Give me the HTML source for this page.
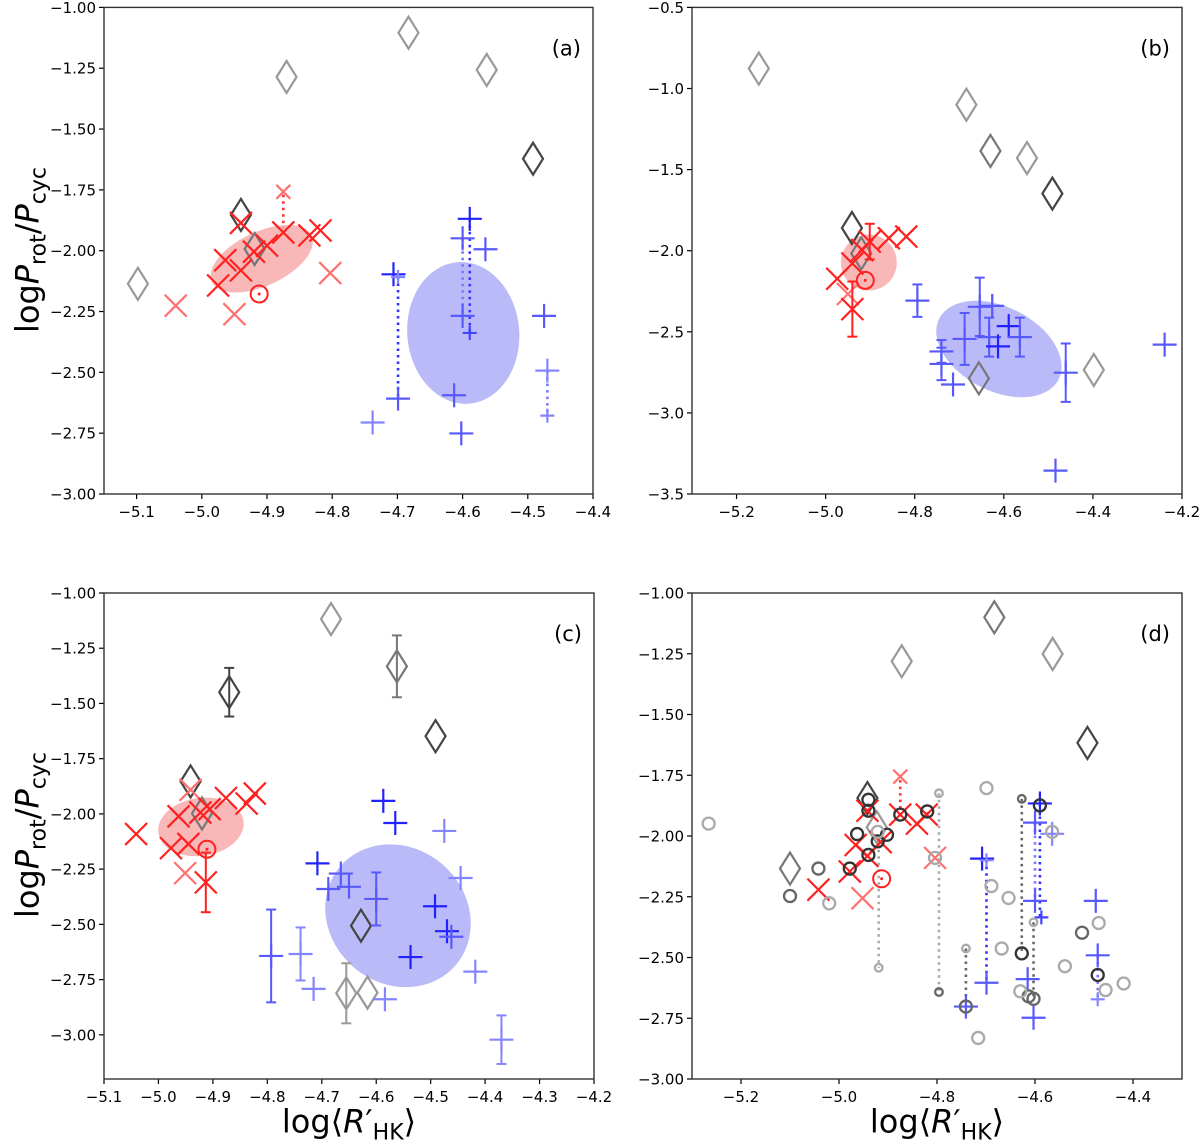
<!DOCTYPE html>
<html><head><meta charset="utf-8">
<style>
html,body{margin:0;padding:0;background:#fff;}
svg{display:block;font-family:"DejaVu Sans","Liberation Sans",sans-serif;}
</style></head>
<body>
<svg id="fig" width="1200" height="1146" viewBox="0 0 1200 1146" xmlns="http://www.w3.org/2000/svg"></svg>
<script>
// ---------- data ----------
const aXTicks=[-5.1,-5.0,-4.9,-4.8,-4.7,-4.6,-4.5,-4.4];
const aYTicks=[-1.00,-1.25,-1.50,-1.75,-2.00,-2.25,-2.50,-2.75,-3.00];
const bXTicks=[-5.2,-5.0,-4.8,-4.6,-4.4,-4.2];
const bYTicks=[-0.5,-1.0,-1.5,-2.0,-2.5,-3.0,-3.5];
const cXTicks=[-5.1,-5.0,-4.9,-4.8,-4.7,-4.6,-4.5,-4.4,-4.3,-4.2];
const cYTicks=[-1.00,-1.25,-1.50,-1.75,-2.00,-2.25,-2.50,-2.75,-3.00];
const dXTicks=[-5.2,-5.0,-4.8,-4.6,-4.4];
const dYTicks=[-1.00,-1.25,-1.50,-1.75,-2.00,-2.25,-2.50,-2.75,-3.00];

// panel a
const aDiamonds=[[-4.870,-1.286,'l'],[-4.683,-1.104,'l'],[-4.563,-1.257,'l'],[-5.098,-2.136,'l'],[-4.492,-1.622,'d'],[-4.940,-1.853,'d'],[-4.919,-1.993,'m']];
const aCrosses=[[-4.875,-1.925,'r'],[-4.835,-1.937,'r'],[-4.818,-1.917,'r'],[-4.900,-1.979,'r'],[-4.920,-2.004,'r'],[-4.964,-2.039,'r'],[-4.940,-2.081,'r'],[-4.975,-2.143,'r'],[-4.940,-1.886,'r'],[-4.803,-2.092,'p'],[-5.040,-2.226,'p'],[-4.950,-2.261,'p'],[-4.875,-1.758,'s']];
const aPluses=[[-4.589,-1.869,'d'],[-4.706,-2.097,'d'],[-4.600,-1.949,'m'],[-4.565,-1.994,'m'],[-4.600,-2.268,'m'],[-4.589,-2.338,'ms'],[-4.699,-2.608,'m'],[-4.613,-2.594,'m'],[-4.602,-2.751,'m'],[-4.475,-2.268,'m'],[-4.470,-2.493,'l'],[-4.470,-2.678,'ls'],[-4.738,-2.706,'l'],[-4.699,-2.108,'ls']];
const aLinks=[[-4.699,-2.108,-2.608,'b'],[-4.600,-1.949,-2.268,'bl'],[-4.589,-1.869,-2.338,'b'],[-4.470,-2.493,-2.678,'bl'],[-4.875,-1.770,-1.905,'r']];
const aSun=[-4.912,-2.178];
const aEllipses=[[-4.908,-2.033,55,27,-25,'r'],[-4.599,-2.338,56,71,-5,'b']];

// panel b
const bDiamonds=[[-5.150,-0.877,'l'],[-4.684,-1.100,'l'],[-4.630,-1.385,'m'],[-4.548,-1.429,'l'],[-4.491,-1.648,'d'],[-4.941,-1.860,'d'],[-4.920,-2.017,'m'],[-4.656,-2.787,'m'],[-4.398,-2.735,'l']];
const bCrosses=[[-4.901,-1.944,'r',0.11],[-4.858,-1.923,'r',0],[-4.819,-1.913,'r',0],[-4.918,-1.996,'r',0],[-4.940,-2.079,'r',0],[-4.974,-2.173,'r',0],[-4.950,-2.267,'p',0],[-4.940,-2.360,'r',0.17]];
const bPluses=[[-4.794,-2.308,'m',0.10],[-4.654,-2.346,'m',0.18],[-4.626,-2.340,'m',0],[-4.688,-2.544,'m',0.16],[-4.633,-2.533,'m',0.12],[-4.613,-2.590,'d',0],[-4.589,-2.465,'d',0],[-4.564,-2.533,'m',0.12],[-4.740,-2.621,'m',0.07],[-4.740,-2.698,'m',0.10],[-4.714,-2.825,'m',0],[-4.461,-2.752,'m',0.18],[-4.239,-2.579,'m',0],[-4.484,-3.356,'m',0]];
const bSun=[-4.911,-2.183];
const bEllipses=[[-4.903,-2.073,28,28,0,'r'],[-4.611,-2.606,67,42,27,'b']];

// panel c
const cDiamonds=[[-4.683,-1.118,'l',0],[-4.562,-1.332,'m',0.14],[-4.870,-1.449,'d',0.11],[-4.491,-1.648,'d',0],[-4.941,-1.853,'d',0],[-4.920,-1.998,'m',0],[-4.628,-2.506,'d',0],[-4.655,-2.812,'l',0.136],[-4.616,-2.809,'l',0]];
const cCrosses=[[-5.041,-2.091,'r',0],[-4.963,-2.011,'r',0],[-4.941,-1.891,'p',0],[-4.906,-1.978,'r',0],[-4.876,-1.928,'r',0],[-4.838,-1.953,'r',0],[-4.823,-1.908,'r',0],[-4.923,-1.994,'r',0],[-4.977,-2.155,'r',0],[-4.945,-2.136,'r',0],[-4.951,-2.268,'p',0],[-4.913,-2.310,'r',0.135]];
const cPluses=[[-4.587,-1.941,'d',0],[-4.565,-2.041,'d',0],[-4.475,-2.077,'l',0],[-4.708,-2.224,'d',0],[-4.665,-2.270,'m',0],[-4.688,-2.340,'m',0],[-4.650,-2.330,'m',0],[-4.600,-2.385,'m',0.12],[-4.445,-2.290,'l',0],[-4.492,-2.418,'d',0],[-4.470,-2.531,'d',0],[-4.462,-2.556,'m',0],[-4.537,-2.648,'d',0],[-4.418,-2.714,'l',0],[-4.793,-2.643,'m',0.21],[-4.739,-2.634,'l',0.12],[-4.715,-2.792,'l',0],[-4.584,-2.839,'l',0],[-4.370,-3.022,'l',0.11]];
const cSun=[-4.911,-2.160];
const cEllipses=[[-4.922,-2.059,43,29,-8,'r'],[-4.560,-2.461,76,68,40,'b']];

// panel d
const dDiamonds=[[-4.872,-1.281,'l'],[-4.683,-1.100,'m'],[-4.564,-1.251,'l'],[-4.493,-1.617,'d'],[-5.100,-2.134,'m'],[-4.942,-1.844,'d'],[-4.923,-1.964,'l']];
const dCrosses=[[-4.875,-1.912,'r'],[-4.841,-1.949,'r'],[-4.821,-1.912,'r'],[-4.915,-2.025,'r'],[-4.966,-2.037,'r'],[-4.942,-2.082,'r'],[-4.978,-2.146,'r'],[-4.942,-1.896,'r'],[-4.804,-2.090,'p'],[-5.042,-2.221,'r'],[-4.952,-2.256,'p'],[-4.875,-1.756,'s']];
const dPluses=[[-4.590,-1.866,'d'],[-4.708,-2.093,'d'],[-4.600,-1.945,'m'],[-4.565,-1.991,'l'],[-4.600,-2.267,'m'],[-4.587,-2.335,'ms'],[-4.699,-2.604,'m'],[-4.615,-2.589,'m'],[-4.603,-2.748,'m'],[-4.476,-2.267,'m'],[-4.472,-2.491,'m'],[-4.472,-2.672,'ls'],[-4.741,-2.702,'m'],[-4.699,-2.100,'ls']];
const dCircles=[[-4.940,-1.851,'k'],[-4.940,-1.896,'k'],[-4.963,-1.992,'k'],[-4.921,-2.022,'k'],[-4.902,-1.995,'k'],[-4.940,-2.078,'k'],[-4.978,-2.134,'k'],[-4.875,-1.912,'k'],[-4.820,-1.899,'k'],[-4.590,-1.874,'k'],[-4.627,-2.483,'k'],[-4.472,-2.572,'k'],
 [-5.042,-2.134,'g'],[-5.100,-2.247,'g'],[-4.504,-2.398,'g'],[-4.613,-2.660,'g'],[-4.603,-2.670,'g'],[-4.741,-2.702,'g'],
 [-5.266,-1.949,'l'],[-5.020,-2.277,'l'],[-4.921,-1.983,'l'],[-4.804,-2.090,'l'],[-4.699,-1.803,'l'],[-4.689,-2.206,'l'],[-4.654,-2.255,'l'],[-4.668,-2.463,'l'],[-4.565,-1.983,'l'],[-4.470,-2.358,'l'],[-4.539,-2.536,'l'],[-4.630,-2.639,'l'],[-4.456,-2.634,'l'],[-4.419,-2.607,'l'],[-4.716,-2.831,'l'],
 [-4.796,-1.824,'ls'],[-4.796,-2.642,'gs'],[-4.627,-1.847,'gs'],[-4.741,-2.463,'ls'],[-4.919,-2.542,'ls'],[-4.603,-2.355,'ls']];
const dLinks=[[-4.699,-2.100,-2.604,'b'],[-4.600,-1.945,-2.267,'bl'],[-4.590,-1.866,-2.335,'b'],[-4.472,-2.491,-2.672,'bl'],[-4.875,-1.770,-1.900,'r'],
 [-4.796,-1.824,-2.642,'gl'],[-4.627,-1.847,-2.483,'g'],[-4.741,-2.463,-2.702,'g'],[-4.919,-2.030,-2.542,'gl'],[-4.603,-2.355,-2.670,'g']];
const dSun=[-4.913,-2.176];

// ---------- rendering ----------
const NS='http://www.w3.org/2000/svg';
const fig=document.getElementById('fig');
function mk(tag,attrs,parent){const e=document.createElementNS(NS,tag);for(const k in attrs)e.setAttribute(k,attrs[k]);(parent||fig).appendChild(e);return e;}
const minus=s=>s.replace('-','\u2212');

const diaCol={l:'#999999',m:'#777777',d:'#444444'};
const crossCol={r:'#ff2020',p:'#ff7070',s:'#ff7070'};
const plusCol={d:'#2222ff',m:'#5858ff',l:'#8585ff',ms:'#4444ff',ls:'#8585ff'};
const circCol={k:'#333333',g:'#666666',l:'#aaaaaa',ls:'#aaaaaa',gs:'#666666'};
const linkCol={b:'#3333ff',bl:'#7777ff',r:'#ff3030',g:'#666666',gl:'#aaaaaa'};
const ellCol={r:'#f8b8b8',b:'#babaf8'};

function panel(name,px0,px1,xl,py0,py1,yl,xticks,yticks,xdec,ydec,label){
  const g=mk('g',{});
  
  
  const X=v=>px0+(v-xl[0])/(xl[1]-xl[0])*(px1-px0);
  const Y=v=>py0+(v-yl[0])/(yl[1]-yl[0])*(py1-py0);
  const plot=mk('g',{},g);
  
  
  const ax=mk('g',{'font-size':'15','fill':'#000'},g);
  
  
  xticks.forEach(t=>{const x=X(t);
    mk('line',{x1:x,y1:py1,x2:x,y2:py1+5,stroke:'#000','stroke-width':1.2},ax);
    const tx=mk('text',{x:x,y:py1+23,'text-anchor':'middle'},ax);tx.textContent=minus(t.toFixed(xdec));
    
    });
  yticks.forEach(t=>{const y=Y(t);
    mk('line',{x1:px0-5,y1:y,x2:px0,y2:y,stroke:'#000','stroke-width':1.2},ax);
    const tx=mk('text',{x:px0-8,y:y+5.5,'text-anchor':'end'},ax);tx.textContent=minus(t.toFixed(ydec));
    
    });
  const fr=mk('rect',{x:px0,y:py0,width:px1-px0,height:py1-py0,fill:'none',stroke:'#333','stroke-width':1.4},ax);
  
  
  const lt=mk('text',{x:px1-12,y:py0+48,'text-anchor':'end','font-size':'21'},ax);lt.textContent=label;
  
  
  return {X,Y,plot};
}
function ellipses(P,arr){arr.forEach(e=>{const cx=P.X(e[0]),cy=P.Y(e[1]);
  const el=mk('ellipse',{cx:cx,cy:cy,rx:e[2],ry:e[3],transform:`rotate(${e[4]} ${cx} ${cy})`,fill:ellCol[e[5]]},P.plot);
  
  });}
function links(P,arr){arr.forEach(l=>{const x=P.X(l[0]);
  const ln=mk('line',{x1:x,y1:P.Y(l[1]),x2:x,y2:P.Y(l[2]),stroke:linkCol[l[3]],'stroke-width':2.6,'stroke-dasharray':'2.5 4'},P.plot);
  
  });}
function errbar(P,x,y,e,col){if(!e)return;const px=P.X(x);
  mk('line',{x1:px,y1:P.Y(y-e),x2:px,y2:P.Y(y+e),stroke:col,'stroke-width':2},P.plot);
  mk('line',{x1:px-5,y1:P.Y(y-e),x2:px+5,y2:P.Y(y-e),stroke:col,'stroke-width':2},P.plot);
  mk('line',{x1:px-5,y1:P.Y(y+e),x2:px+5,y2:P.Y(y+e),stroke:col,'stroke-width':2},P.plot);}
function diamonds(P,arr){arr.forEach(d=>{const x=P.X(d[0]),y=P.Y(d[1]),c=diaCol[d[2]];
  errbar(P,d[0],d[1],d[3],c);
  const p=mk('path',{d:`M${x} ${y-16}L${x+10} ${y}L${x} ${y+16}L${x-10} ${y}Z`,fill:'none',stroke:c,'stroke-width':2.2},P.plot);
  
  });}
function crosses(P,arr){arr.forEach(d=>{const x=P.X(d[0]),y=P.Y(d[1]),c=crossCol[d[2]],s=d[2]==='s'?7:11;
  errbar(P,d[0],d[1],d[3],c);
  const p=mk('path',{d:`M${x-s} ${y-s}L${x+s} ${y+s}M${x-s} ${y+s}L${x+s} ${y-s}`,stroke:c,'stroke-width':2.2,fill:'none'},P.plot);
  
  });}
function pluses(P,arr){arr.forEach(d=>{const x=P.X(d[0]),y=P.Y(d[1]),c=plusCol[d[2]],s=d[2].length>1?7:12;
  errbar(P,d[0],d[1],d[3],c);
  const p=mk('path',{d:`M${x-s} ${y}L${x+s} ${y}M${x} ${y-s}L${x} ${y+s}`,stroke:c,'stroke-width':2.2,fill:'none'},P.plot);
  
  });}
function circles(P,arr){arr.forEach(d=>{const r=d[2].length>1?3.8:6;
  const p=mk('circle',{cx:P.X(d[0]),cy:P.Y(d[1]),r:r,fill:'none',stroke:circCol[d[2]],'stroke-width':2.3},P.plot);
  
  });}
function sun(P,s){const x=P.X(s[0]),y=P.Y(s[1]);
  const c=mk('circle',{cx:x,cy:y,r:8.5,fill:'none',stroke:'#ff2020','stroke-width':2},P.plot);
  
  
  mk('circle',{cx:x,cy:y,r:1.5,fill:'#ff2020'},P.plot);}

const PA=panel('panel-a',104,593,[-5.15,-4.4],7.4,494,[-1,-3],aXTicks,aYTicks,1,2,'(a)');
ellipses(PA,aEllipses);links(PA,aLinks);diamonds(PA,aDiamonds);crosses(PA,aCrosses);pluses(PA,aPluses);sun(PA,aSun);

const PB=panel('panel-b',692,1182,[-5.3,-4.2],7.4,494,[-0.5,-3.5],bXTicks,bYTicks,1,1,'(b)');
ellipses(PB,bEllipses);diamonds(PB,bDiamonds);crosses(PB,bCrosses);pluses(PB,bPluses);sun(PB,bSun);

const PC=panel('panel-c',104,594,[-5.1,-4.2],593,1079,[-1,-3.2],cXTicks,cYTicks,1,2,'(c)');
ellipses(PC,cEllipses);diamonds(PC,cDiamonds);crosses(PC,cCrosses);pluses(PC,cPluses);sun(PC,cSun);

const PD=panel('panel-d',692,1182,[-5.3,-4.3],593,1079,[-1,-3],dXTicks,dYTicks,1,2,'(d)');
links(PD,dLinks);diamonds(PD,dDiamonds);crosses(PD,dCrosses);pluses(PD,dPluses);circles(PD,dCircles);sun(PD,dSun);
</script>
<div style="position:absolute;left:0;top:0;width:1200px;height:1146px;pointer-events:none;font-family:'DejaVu Sans','Liberation Sans',sans-serif;">
  <div style="position:absolute;left:30px;top:250px;transform:translate(-50%,-50%) rotate(-90deg);font-size:32px;white-space:nowrap;">log<i>P</i><sub style="font-size:22px">rot</sub>/<i>P</i><sub style="font-size:22px">cyc</sub></div>
  <div style="position:absolute;left:30px;top:835px;transform:translate(-50%,-50%) rotate(-90deg);font-size:32px;white-space:nowrap;">log<i>P</i><sub style="font-size:22px">rot</sub>/<i>P</i><sub style="font-size:22px">cyc</sub></div>
  <div style="position:absolute;left:349px;top:1124px;transform:translate(-50%,-50%);font-size:32px;white-space:nowrap;">log⟨<i>R</i>′<sub style="font-size:22px">HK</sub>⟩</div>
  <div style="position:absolute;left:937px;top:1124px;transform:translate(-50%,-50%);font-size:32px;white-space:nowrap;">log⟨<i>R</i>′<sub style="font-size:22px">HK</sub>⟩</div>
</div>
</body></html>
